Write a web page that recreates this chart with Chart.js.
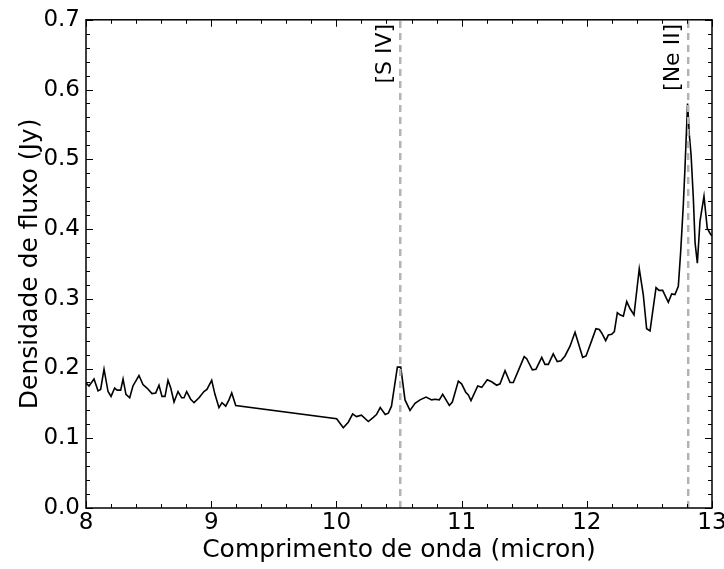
<!DOCTYPE html>
<html>
<head>
<meta charset="utf-8">
<script src="https://cdn.jsdelivr.net/npm/chart.js@4.4.0/dist/chart.umd.min.js"></script>
<style>
  html, body { margin: 0; padding: 0; background: #fff; }
  #wrap { width: 724px; height: 569px; }
</style>
</head>
<body>
<div id="wrap"><canvas id="spectrum"></canvas></div>
<script>
// Spectrum: wavelength (micron) vs flux density (Jy)
const wavelength = [
  8.000, 8.024, 8.064, 8.096, 8.117, 8.144, 8.176, 8.200, 8.229, 8.248,
  8.277, 8.296, 8.319, 8.349, 8.375, 8.423, 8.455, 8.487, 8.527, 8.557,
  8.583, 8.607, 8.631, 8.655, 8.677, 8.703, 8.735, 8.764, 8.783, 8.804,
  8.836, 8.863, 8.903, 8.942, 8.966, 9.004, 9.030, 9.062, 9.086, 9.116,
  9.142, 9.164, 9.196,
  10.002, 10.055, 10.095, 10.130, 10.160, 10.200, 10.255, 10.295, 10.320, 10.350,
  10.390, 10.415, 10.440, 10.487, 10.514, 10.548, 10.588, 10.628, 10.668, 10.716,
  10.761, 10.788, 10.822, 10.849, 10.902, 10.926, 10.974, 11.000, 11.033, 11.054,
  11.075, 11.129, 11.161, 11.205, 11.240, 11.280, 11.307, 11.347, 11.387, 11.413,
  11.453, 11.500, 11.520, 11.565, 11.594, 11.640, 11.666, 11.693, 11.732, 11.764,
  11.794, 11.826, 11.866, 11.906, 11.967, 11.994, 12.039, 12.073, 12.100, 12.119,
  12.151, 12.172, 12.199, 12.220, 12.244, 12.265, 12.292, 12.319, 12.345, 12.377,
  12.419, 12.451, 12.478, 12.505, 12.553, 12.577, 12.606, 12.651, 12.678, 12.704,
  12.731, 12.750, 12.771, 12.784, 12.805, 12.819, 12.833, 12.851, 12.865, 12.883,
  12.904, 12.936, 12.962, 12.984, 13.000
];
const flux = [
  0.179, 0.175, 0.185, 0.168, 0.170, 0.199, 0.167, 0.160, 0.172, 0.169,
  0.169, 0.185, 0.163, 0.158, 0.175, 0.190, 0.177, 0.172, 0.164, 0.165,
  0.176, 0.160, 0.160, 0.183, 0.172, 0.152, 0.167, 0.158, 0.158, 0.167,
  0.156, 0.151, 0.158, 0.167, 0.170, 0.183, 0.163, 0.144, 0.151, 0.146,
  0.155, 0.165, 0.147,
  0.128, 0.115, 0.123, 0.135, 0.131, 0.133, 0.124, 0.130, 0.134, 0.144,
  0.134, 0.136, 0.146, 0.202, 0.202, 0.155, 0.140, 0.150, 0.155, 0.159,
  0.155, 0.156, 0.155, 0.163, 0.147, 0.152, 0.182, 0.178, 0.166, 0.162,
  0.154, 0.175, 0.173, 0.184, 0.181, 0.176, 0.178, 0.197, 0.180, 0.180,
  0.197, 0.217, 0.214, 0.198, 0.199, 0.216, 0.206, 0.206, 0.221, 0.210,
  0.211, 0.218, 0.232, 0.252, 0.216, 0.218, 0.240, 0.257, 0.256, 0.251,
  0.240, 0.248, 0.249, 0.253, 0.280, 0.277, 0.275, 0.296, 0.286, 0.277,
  0.343, 0.306, 0.257, 0.254, 0.316, 0.312, 0.312, 0.295, 0.307, 0.306,
  0.318, 0.368, 0.435, 0.487, 0.580, 0.535, 0.506, 0.444, 0.380, 0.351,
  0.411, 0.447, 0.401, 0.394, 0.390
];

// Emission line markers
const lineNames = ['[S IV]', '[Ne II]'];
const lineWavelengths = [10.51, 12.81];

const xTicks = [8, 9, 10, 11, 12, 13];
const yTicks = [0.0, 0.1, 0.2, 0.3, 0.4, 0.5, 0.6, 0.7];

const FONT = "'DejaVu Sans', sans-serif";

const spectrumData = wavelength.map((w, i) => ({ x: w, y: flux[i] }));

const markerSets = lineWavelengths.map((w, i) => ({
  label: lineNames[i],
  data: [{ x: w, y: yTicks[0] }, { x: w, y: yTicks[yTicks.length - 1] }],
  borderColor: '#b3b3b3',
  borderWidth: 2.5,
  borderDash: [7, 5],
  pointRadius: 0,
  showLine: true,
  fill: false
}));

// Inward ticks on all four sides, like a classic matplotlib frame
const frameTicks = {
  id: 'frameTicks',
  afterDatasetsDraw(chart) {
    const { ctx, chartArea: a, scales } = chart;
    const xs = scales.x, ys = scales.y;
    ctx.save();
    ctx.strokeStyle = '#000';
    ctx.lineWidth = 1;
    const drawX = (v, len) => {
      const px = Math.round(xs.getPixelForValue(v)) + 0.5;
      ctx.beginPath();
      ctx.moveTo(px, a.bottom); ctx.lineTo(px, a.bottom - len);
      ctx.moveTo(px, a.top); ctx.lineTo(px, a.top + len);
      ctx.stroke();
    };
    const drawY = (v, len) => {
      const py = Math.round(ys.getPixelForValue(v)) + 0.5;
      ctx.beginPath();
      ctx.moveTo(a.left, py); ctx.lineTo(a.left + len, py);
      ctx.moveTo(a.right, py); ctx.lineTo(a.right - len, py);
      ctx.stroke();
    };
    for (let i = 0; i <= 25; i++) drawX(8 + i * 0.2, i % 5 === 0 ? 7 : 4);
    for (let i = 0; i <= 35; i++) drawY(i * 0.02, i % 5 === 0 ? 7 : 4);
    ctx.lineWidth = 1.5;
    ctx.strokeRect(a.left, a.top, a.right - a.left, a.bottom - a.top);

    // rotated labels beside the dashed lines
    ctx.fillStyle = '#000';
    ctx.font = '22px ' + FONT;
    ctx.textAlign = 'right';
    ctx.textBaseline = 'middle';
    lineWavelengths.forEach((w, i) => {
      const px = xs.getPixelForValue(w);
      ctx.save();
      ctx.translate(px - 15, a.top + 4);
      ctx.rotate(-Math.PI / 2);
      ctx.fillText(lineNames[i], 0, 0);
      ctx.restore();
    });
    ctx.restore();
  }
};

new Chart(document.getElementById('spectrum'), {
  type: 'scatter',
  data: {
    datasets: [
      ...markerSets,
      {
        label: 'Espectro',
        data: spectrumData,
        borderColor: '#000',
        borderWidth: 1.6,
        pointRadius: 0,
        showLine: true,
        tension: 0,
        fill: false
      }
    ]
  },
  options: {
    responsive: true,
    maintainAspectRatio: false,
    animation: false,
    layout: { padding: { top: 18, right: 12, left: 0, bottom: 0 } },
    plugins: {
      legend: { display: false },
      tooltip: { enabled: false }
    },
    scales: {
      x: {
        type: 'linear',
        min: 8,
        max: 13,
        afterBuildTicks: s => { s.ticks = xTicks.map(v => ({ value: v })); },
        afterFit: s => { s.height = 61; s.paddingRight = 0; },
        ticks: {
          color: '#000',
          font: { family: FONT, size: 23 },
          padding: 1,
          maxRotation: 0,
          callback: v => String(v)
        },
        grid: { display: false, drawTicks: false },
        border: { display: false },
        title: {
          display: true,
          text: 'Comprimento de onda (micron)',
          color: '#000',
          font: { family: FONT, size: 25 },
          padding: { top: 0, bottom: 4 }
        }
      },
      y: {
        type: 'linear',
        min: 0,
        max: 0.7,
        afterBuildTicks: s => { s.ticks = yTicks.map(v => ({ value: v })); },
        afterFit: s => { s.width = 86; },
        ticks: {
          color: '#000',
          font: { family: FONT, size: 23 },
          padding: 6,
          callback: v => v.toFixed(1)
        },
        grid: { display: false, drawTicks: false },
        border: { display: false },
        title: {
          display: true,
          text: 'Densidade de fluxo (Jy)',
          color: '#000',
          font: { family: FONT, size: 25 },
          padding: { top: 15, bottom: 0 }
        }
      }
    }
  },
  plugins: [frameTicks]
});
</script>
</body>
</html>
